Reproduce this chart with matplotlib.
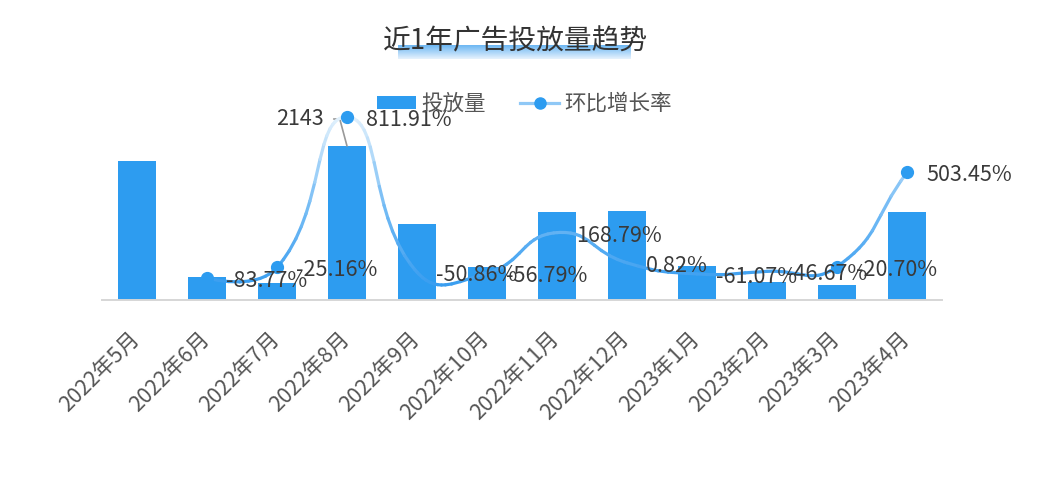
import numpy as np
import matplotlib
matplotlib.use('Agg')
import matplotlib.pyplot as plt
from matplotlib.path import Path
from matplotlib.collections import LineCollection
from matplotlib.colors import LinearSegmentedColormap, Normalize
from matplotlib.lines import Line2D
from matplotlib.patches import Patch
from matplotlib.transforms import ScaledTranslation

plt.rcParams['font.family'] = ['Noto Sans CJK SC', 'DejaVu Sans']

months = ['2022年5月', '2022年6月', '2022年7月', '2022年8月', '2022年9月', '2022年10月',
          '2022年11月', '2022年12月', '2023年1月', '2023年2月', '2023年3月', '2023年4月']
volume = [1935, 314, 235, 2143, 1053, 455, 1223, 1233, 480, 256, 203, 1225]
mom_rate = [None, -83.77, -25.16, 811.91, -50.86, -56.79, 168.79, 0.82, -61.07, -46.67, -20.70, 503.45]
show_dot = [False, True, True, True, False, False, False, False, False, False, True, True]

bar_color = '#2d9cf0'
W, H = 1047, 482

fig = plt.figure(figsize=(W / 100, H / 100), dpi=100)
ax = fig.add_axes([102 / W, 182 / H, 840 / W, 200 / H])
ax2 = ax.twinx()

x = np.arange(len(months))
ax.bar(x, volume, width=0.53, color=bar_color, zorder=2)
ax.set_xlim(-0.5, len(months) - 0.5)
ax.set_ylim(0, 2783)
ax2.set_ylim(-206, 906.5)

for a in (ax, ax2):
    for s in a.spines.values():
        s.set_visible(False)
    a.set_yticks([])
ax.spines['bottom'].set_visible(True)
ax.spines['bottom'].set_color('#d6d6d6')
ax.spines['bottom'].set_linewidth(1.4)

ax.set_xticks(x)
ax.set_xticklabels(months, rotation=45, ha='right', va='top', rotation_mode='anchor',
                   fontsize=15.5, color='#555555')
ax.tick_params(axis='x', length=0, pad=20)
shift = ScaledTranslation(-0.09, 0, fig.dpi_scale_trans)
for lab in ax.get_xticklabels():
    lab.set_transform(lab.get_transform() + shift)

# max bar label with leader line
imax = int(np.argmax(volume))
ax.annotate(str(volume[imax]), xy=(imax, volume[imax]), xytext=(-23, 27),
            textcoords='offset pixels', ha='right', va='center', fontsize=15.5, color='#3a3a3a',
            arrowprops=dict(arrowstyle='-', color='#999999', lw=1.2, shrinkA=5, shrinkB=0,
                            relpos=(1, 0.5), connectionstyle='angle,angleA=0,angleB=105,rad=0'),
            zorder=6)

# smoothed rate line (echarts-like bezier), built in pixel space
rx = np.array([i for i, v in enumerate(mom_rate) if v is not None], dtype=float)
ry = np.array([v for v in mom_rate if v is not None], dtype=float)
pts = ax2.transData.transform(np.column_stack([rx, ry]))


def smooth_path(p, s=0.5):
    n = len(p)
    verts, codes = [p[0]], [Path.MOVETO]
    cp_out = p[0].copy()
    for i in range(n - 1):
        a, b = p[i], p[i + 1]
        nxt = p[i + 2] if i + 2 < n else b
        v = nxt - a
        d0 = np.hypot(*(b - a))
        d1 = np.hypot(*(nxt - b))
        r = d1 / (d0 + d1) if d0 + d1 > 0 else 0.5
        cp_in = b - v * s * (1 - r)
        verts += [cp_out, cp_in, b]
        codes += [Path.CURVE4] * 3
        cp_out = b + v * s * r
    return Path(np.array(verts), codes)


path = smooth_path(pts)
poly = np.vstack(path.to_polygons(closed_only=False))
data_xy = ax2.transData.inverted().transform(poly)
segs = np.stack([data_xy[:-1], data_xy[1:]], axis=1)
cmap = LinearSegmentedColormap.from_list('rate', ['#3a9ef0', '#7cbff5', '#e8f4fd'])
lc = LineCollection(segs, cmap=cmap, norm=Normalize(-120, 840), linewidths=2.3,
                    capstyle='round', zorder=3)
lc.set_array((segs[:, 0, 1] + segs[:, 1, 1]) / 2)
ax2.add_collection(lc)

dots = [i for i in range(len(months)) if show_dot[i]]
ax2.plot(dots, [mom_rate[i] for i in dots], 'o', ms=8.5, color=bar_color, zorder=4)

for i, v in enumerate(mom_rate):
    if v is None:
        continue
    ax2.annotate(f'{v:.2f}%', xy=(i, v), xytext=(19, -3), textcoords='offset pixels',
                 ha='left', va='center', fontsize=15.5, color='#3a3a3a', zorder=6)

# title with gradient highlight
hl = fig.add_axes([398 / W, 1 - 59 / H, 233 / W, 14 / H])
hl.imshow(np.linspace(0, 1, 50).reshape(-1, 1), aspect='auto',
          cmap=LinearSegmentedColormap.from_list('hl', ['#6db7f3', '#e6f2fd']))
hl.axis('off')
fig.text(515 / W, 1 - 41 / H, '近1年广告投放量趋势', ha='center', va='center',
         fontsize=20, color='#333333', zorder=5)

handles = [Patch(facecolor=bar_color),
           Line2D([], [], color='#8fc8f6', lw=2.3, marker='o', ms=8, mfc=bar_color, mec=bar_color)]
fig.legend(handles, ['投放量', '环比增长率'], loc='center', bbox_to_anchor=(524.5 / W, 1 - 104 / H),
           ncol=2, frameon=False, fontsize=15.5, handlelength=1.8, handleheight=0.6,
           handletextpad=0.25, columnspacing=1.6, labelcolor='#555555')

fig.savefig('out.png', dpi=100)
